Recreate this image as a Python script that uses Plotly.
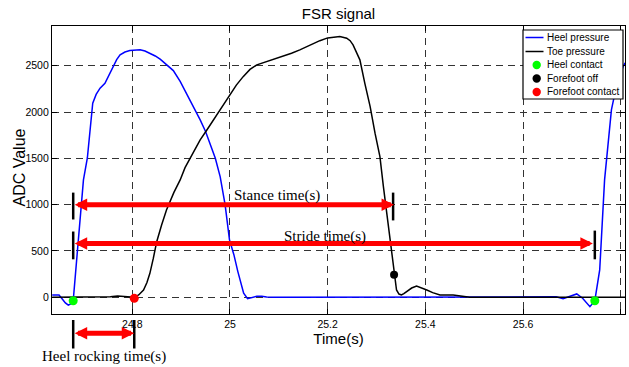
import plotly.graph_objects as go

# ---------------- data ----------------
heel_t = [24.636, 24.650, 24.657, 24.663, 24.669, 24.675, 24.679, 24.685, 24.692, 24.700,
          24.708, 24.714, 24.719, 24.726, 24.734, 24.744, 24.752, 24.761, 24.768, 24.775,
          24.785, 24.795, 24.805, 24.816, 24.826, 24.836, 24.847, 24.857, 24.870, 24.884,
          24.898, 24.911, 24.925, 24.939, 24.950, 24.959, 24.970, 24.980, 24.990, 24.999,
          25.008, 25.016, 25.022, 25.028, 25.036, 25.045, 25.055, 25.065, 25.075, 25.090,
          25.300, 25.500, 25.655, 25.668, 25.682, 25.696, 25.710, 25.722, 25.737, 25.747,
          25.757, 25.767, 25.771, 25.776, 25.781, 25.790, 25.797, 25.805, 25.809]
heel_v = [25, 25, -20, -60, -85, -70, -37, 350, 800, 1267,
          1504, 1850, 2095, 2190, 2257, 2311, 2400, 2490, 2565, 2617,
          2648, 2663, 2670, 2671, 2658, 2635, 2605, 2570, 2515, 2447,
          2330, 2203, 2065, 1915, 1790, 1663, 1500, 1300, 1000, 620,
          460, 280, 150, 45, -15, -3, 12, 12, 3, 0,
          0, 0, 0, 5, -15, 10, 36, -10, -101, -37,
          295, 1267, 1504, 1780, 2023, 2250, 2380, 2490, 2530]

toe_t = [24.636, 24.700, 24.755, 24.770, 24.785, 24.804, 24.813, 24.823, 24.830, 24.836,
         24.843, 24.850, 24.860, 24.870, 24.885, 24.898, 24.908, 24.918, 24.928, 24.939,
         24.952, 24.966, 24.983, 25.000, 25.013, 25.027, 25.041, 25.055, 25.075, 25.092,
         25.109, 25.126, 25.143, 25.157, 25.171, 25.184, 25.200, 25.212, 25.225, 25.239,
         25.246, 25.252, 25.259, 25.266, 25.276, 25.287, 25.297, 25.307, 25.314, 25.321,
         25.328, 25.336, 25.341, 25.346, 25.351, 25.356, 25.362, 25.372, 25.382, 25.392,
         25.403, 25.415, 25.430, 25.457, 25.475, 25.491, 25.600, 25.809]
toe_v = [0, 0, 5, 15, 5, 0, 25, 79, 160, 259,
         420, 600, 780, 943, 1130, 1267, 1400, 1501, 1600, 1699,
         1800, 1915, 2050, 2185, 2290, 2382, 2460, 2509, 2545, 2575,
         2599, 2635, 2671, 2705, 2743, 2770, 2800, 2810, 2814, 2797,
         2770, 2725, 2650, 2563, 2311, 2059, 1771, 1519, 1200, 907,
         583, 244, 79, 35, 25, 40, 61, 100, 122, 105,
         79, 50, 25, 25, 10, 0, 0, 0]

heel_contact_t = [24.679, 25.747]
heel_contact_v = [-37, -37]
forefoot_off_t = [25.336]
forefoot_off_v = [244]
forefoot_contact_t = [24.804]
forefoot_contact_v = [-11]

x_tick_vals = [24.8, 25.0, 25.2, 25.4, 25.6, 25.8]
x_tick_text = ["24.8", "25", "25.2", "25.4", "25.6", "25.8"]
y_tick_vals = [0, 500, 1000, 1500, 2000, 2500]
y_tick_text = ["0", "500", "1000", "1500", "2000", "2500"]

series_names = ["Heel pressure", "Toe pressure", "Heel contact", "Forefoot off", "Forefoot contact"]
interval_labels = ["Stance time(s)", "Stride time(s)", "Heel rocking time(s)"]
stance_level = 1000
stride_level = 580
stance_label_pos = [25.096, 1097]
stride_label_pos = [25.195, 654]
rocking_label_x = 24.743

assert len(heel_t) == len(heel_v) and len(toe_t) == len(toe_v)

# ---------------- style / layout ----------------
W, H = 629, 367
ML, MR, MT, MB = 52, 4, 26, 53
PW, PH = W - ML - MR, H - MT - MB
SANS = "Liberation Sans, Arial, sans-serif"
SERIF = "Liberation Serif, Times New Roman, serif"
BLUE, BLACK, GREEN, RED = "#0000ff", "#000000", "#00ff00", "#ff0000"


def px2paper_x(px):
    return (px - ML) / PW


def px2paper_y(py):
    return (H - MB - py) / PH


fig = go.Figure()
fig.add_trace(go.Scatter(x=heel_t, y=heel_v, mode="lines", name=series_names[0],
                         line=dict(color=BLUE, width=1.5)))
fig.add_trace(go.Scatter(x=toe_t, y=toe_v, mode="lines", name=series_names[1],
                         line=dict(color=BLACK, width=1.5)))
fig.add_trace(go.Scatter(x=heel_contact_t, y=heel_contact_v, mode="markers", name=series_names[2],
                         marker=dict(color=GREEN, size=9), cliponaxis=False))
fig.add_trace(go.Scatter(x=forefoot_off_t, y=forefoot_off_v, mode="markers", name=series_names[3],
                         marker=dict(color=BLACK, size=8), cliponaxis=False))
fig.add_trace(go.Scatter(x=forefoot_contact_t, y=forefoot_contact_v, mode="markers", name=series_names[4],
                         marker=dict(color=RED, size=9), cliponaxis=False))


def double_arrow(x0, x1, y, yref):
    fig.add_annotation(x=x1, y=y, xref="x", yref=yref,
                       ax=x0, axref="x",
                       ay=(y if yref == "y" else 0), ayref=("y" if yref == "y" else "pixel"),
                       text="", showarrow=True, arrowside="end+start",
                       arrowhead=2, startarrowhead=2, arrowsize=0.5, startarrowsize=0.5,
                       arrowwidth=5, arrowcolor=RED, standoff=0, startstandoff=0)


def vbar(x, y0, y1, yref):
    fig.add_shape(type="line", xref="x", yref=yref, x0=x, x1=x, y0=y0, y1=y1,
                  line=dict(color=BLACK, width=2.5))


# stance
double_arrow(heel_contact_t[0], forefoot_off_t[0], stance_level, "y")
vbar(heel_contact_t[0], stance_level - 160, stance_level + 130, "y")
vbar(forefoot_off_t[0] - 0.002, stance_level - 170, stance_level + 130, "y")
# stride
double_arrow(heel_contact_t[0], heel_contact_t[1] - 0.004, stride_level, "y")
vbar(heel_contact_t[0], stride_level - 170, stride_level + 130, "y")
vbar(heel_contact_t[1], stride_level - 170, stride_level + 140, "y")
# heel rocking (below axis)
rock_y = px2paper_y(333.3)
double_arrow(heel_contact_t[0], forefoot_contact_t[0], rock_y, "paper")
vbar(heel_contact_t[0], px2paper_y(320), px2paper_y(348.5), "paper")
vbar(forefoot_contact_t[0], px2paper_y(320), px2paper_y(348.5), "paper")

fig.add_annotation(x=stance_label_pos[0], y=stance_label_pos[1], xref="x", yref="y",
                   xanchor="center", yanchor="middle",
                   text=interval_labels[0], showarrow=False,
                   font=dict(family=SERIF, size=15, color=BLACK))
fig.add_annotation(x=stride_label_pos[0], y=stride_label_pos[1], xref="x", yref="y",
                   xanchor="center", yanchor="middle",
                   text=interval_labels[1], showarrow=False,
                   font=dict(family=SERIF, size=15, color=BLACK))
fig.add_annotation(x=rocking_label_x, y=px2paper_y(356.5), xref="x", yref="paper",
                   xanchor="center", yanchor="middle",
                   text=interval_labels[2], showarrow=False,
                   font=dict(family=SERIF, size=15, color=BLACK))

# y-axis title placed as rotated text left of the tick labels
fig.add_annotation(x=px2paper_x(18.5), y=px2paper_y(168), xref="paper", yref="paper",
                   xanchor="center", yanchor="middle", textangle=-90,
                   text="ADC Value", showarrow=False,
                   font=dict(family=SANS, size=16, color=BLACK))

# ---------------- custom legend ----------------
lx0, lx1, ly0, ly1 = px2paper_x(523), px2paper_x(623), px2paper_y(30), px2paper_y(99)
fig.add_shape(type="rect", xref="paper", yref="paper", x0=lx0, x1=lx1, y0=ly1, y1=ly0,
              fillcolor="white", line=dict(color=BLACK, width=1.2), layer="above")
row_y = [37.5, 51.5, 65, 78.5, 92]
legend_kind = ["line", "line", "dot", "dot", "dot"]
legend_color = [BLUE, BLACK, GREEN, BLACK, RED]
for name, ry, kind, col in zip(series_names, row_y, legend_kind, legend_color):
    yp = px2paper_y(ry)
    if kind == "line":
        fig.add_shape(type="line", xref="paper", yref="paper",
                      x0=px2paper_x(525.5), x1=px2paper_x(543.5), y0=yp, y1=yp,
                      line=dict(color=col, width=1.5), layer="above")
    else:
        fig.add_shape(type="circle", xref="paper", yref="paper",
                      xsizemode="pixel", ysizemode="pixel",
                      xanchor=px2paper_x(536.7), yanchor=yp,
                      x0=-4.2, x1=4.2, y0=-4.2, y1=4.2,
                      fillcolor=col, line=dict(color=col, width=0), layer="above")
    fig.add_annotation(x=px2paper_x(544.5), y=yp, xref="paper", yref="paper",
                       xanchor="left", yanchor="middle", text=name, showarrow=False,
                       font=dict(family=SANS, size=10, color=BLACK))

grid = dict(showgrid=True, gridcolor="#333333", gridwidth=1, griddash="7px,5px",
            zeroline=False, showline=True, linecolor=BLACK, linewidth=1.2,
            ticks="inside", ticklen=5, tickcolor=BLACK, mirror="allticks",
            tickfont=dict(family=SANS, size=10.5, color=BLACK))

fig.update_layout(
    width=W, height=H,
    margin=dict(l=ML, r=MR, t=MT, b=MB, autoexpand=False),
    paper_bgcolor="white", plot_bgcolor="white",
    showlegend=False,
    title=dict(text="FSR signal", x=0.5, xref="paper", xanchor="center",
               y=1 - 13.5 / H, yref="container", yanchor="middle",
               font=dict(family=SANS, size=15, color=BLACK)),
    xaxis=dict(range=[24.6356, 25.8088], tickvals=x_tick_vals, ticktext=x_tick_text,
               title=dict(text="Time(s)", standoff=0, font=dict(family=SANS, size=15, color=BLACK)),
               **grid),
    yaxis=dict(range=[-180.3, 2928.5], tickvals=y_tick_vals, ticktext=y_tick_text,
               **grid),
)

fig.write_html("out.html", config={"displayModeBar": False},
               post_script="document.body.style.margin='0';document.body.style.overflow='hidden';")
